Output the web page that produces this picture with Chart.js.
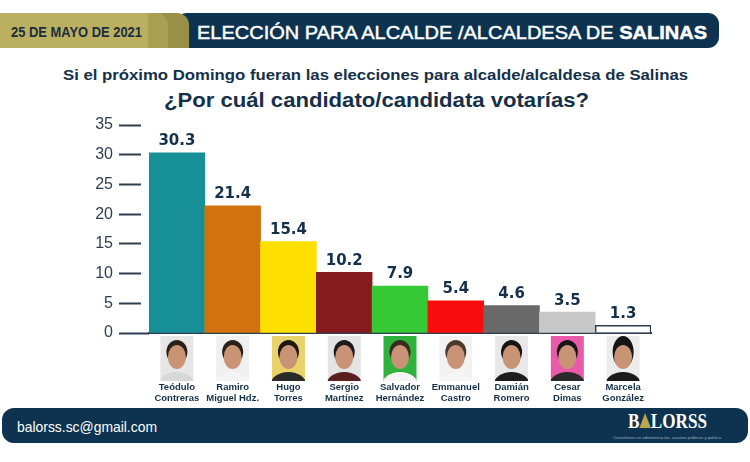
<!DOCTYPE html>
<html><head><meta charset="utf-8">
<script src="https://cdn.jsdelivr.net/npm/chart.js@4.4.0/dist/chart.umd.min.js"></script>
<style>
html,body{margin:0;padding:0;background:#fff;width:750px;height:462px;overflow:hidden;}
.abs{position:absolute;}
.fit{position:absolute;white-space:nowrap;line-height:1;font-family:"Liberation Sans",Arial,sans-serif;}
#c{position:absolute;left:0;top:0;z-index:5;}
</style></head><body>
<!-- header -->
<div class="abs" style="left:176px;top:13px;width:543px;height:35px;background:#0d3350;border-radius:11px;"></div>
<div class="abs" style="left:0;top:13px;width:189px;height:35px;background:#9a8f46;border-radius:0 12px 0 0;"></div>
<div class="abs" style="left:0;top:13px;width:168px;height:35px;background:#aa9f53;border-radius:0 12px 0 0;"></div>
<div class="abs" style="left:0;top:13px;width:148px;height:35px;background:#bab05f;"></div>
<span class="fit" data-l="11" data-w="131" data-cy="32.3" style="font-weight:bold;font-size:14px;color:#1a2e3e;">25 DE MAYO DE 2021</span>
<span class="fit" data-l="197" data-w="510" data-cy="32.6" style="font-size:19px;color:#fff;-webkit-text-stroke:0.45px #fff;">ELECCIÓN PARA ALCALDE /ALCALDESA DE <b>SALINAS</b></span>
<!-- subtitles -->
<span class="fit" data-l="63" data-w="625" data-cy="75" style="font-weight:bold;font-size:15.5px;color:#15304a;">Si el próximo Domingo fueran las elecciones para alcalde/alcaldesa de Salinas</span>
<span class="fit" data-l="164" data-w="425" data-cy="99.5" style="font-weight:bold;font-size:20px;color:#15304a;">¿Por cuál candidato/candidata votarías?</span>
<!-- footer -->
<div class="abs" style="left:2px;top:408px;width:746px;height:35px;background:#0d3350;border-radius:12px;"></div>
<span class="fit" data-l="17" data-w="140" data-cy="426" style="font-size:15px;color:#fff;">balorss.sc@gmail.com</span>
<span class="fit" data-l="628" data-w="79" data-cy="421.5" style="font-family:'Liberation Serif',serif;font-weight:bold;font-size:21px;color:#fff;">B<span style="display:inline-block;width:0;height:0;border-left:7px solid transparent;border-right:7px solid transparent;border-bottom:15px solid #b9a64f;vertical-align:0;"></span>LORSS</span>
<span class="fit" data-l="613" data-w="108" data-cy="437.5" style="font-size:4px;color:#9fb0c0;">Consultores en administración, asuntos públicos y política</span>

<canvas id="c" width="750" height="462"></canvas>
<script>
// ---- data ----
const firstNames = ['Teódulo','Ramiro','Hugo','Sergio','Salvador','Emmanuel','Damián','Cesar','Marcela'];
const lastNames  = ['Contreras','Miguel Hdz.','Torres','Martínez','Hernández','Castro','Romero','Dimas','González'];
const votes      = [30.3, 21.4, 15.4, 10.2, 7.9, 5.4, 4.6, 3.5, 1.3];
const yTicks     = [0, 5, 10, 15, 20, 25, 30, 35];

// ---- styles ----
const barColors = ['#178f97','#d2720e','#fde000','#861b1e','#36c936','#f80c0c','#696969','#c8c8c8','#ffffff'];
const photoBg   = ['#e6e6e6','#f0f0f0','#e8d36a','#e4e4e4','#2fb23c','#f2f2f2','#e8e8e8','#e95aa9','#ececec'];
const shirt     = ['#d8d8d8','#f4f4f4','#2a2a2a','#5a2020','#f4f4f4','#f6f6f6','#1e1e1e','#2a2a2a','#1a1a1a'];
const hair      = ['#2a2018','#2a2018','#1e1610','#1c1c1c','#3a2a20','#4a3a2c','#151515','#151515','#151515'];
const ink = '#15304a';
const axisInk = '#2c3e50';

// fit HTML texts to measured widths
document.querySelectorAll('.fit').forEach(el => {
  const r = el.getBoundingClientRect();
  el.style.left = el.dataset.l + 'px';
  el.style.top = (+el.dataset.cy - r.height / 2) + 'px';
  el.style.transformOrigin = '0 50%';
  el.style.transform = 'scaleX(' + (+el.dataset.w / r.width) + ')';
});

const labelsPlugin = {
  id: 'valueLabels',
  afterDatasetsDraw(chart) {
    const ctx = chart.ctx;
    const meta = chart.getDatasetMeta(0);
    ctx.save();
    ctx.font = 'bold 15px "DejaVu Sans", sans-serif';
    ctx.fillStyle = ink;
    ctx.textAlign = 'center';
    ctx.textBaseline = 'bottom';
    meta.data.forEach((bar, i) => {
      ctx.fillText(votes[i].toFixed(1), bar.x, bar.y - 4);
    });
    // photo placeholders
    const top = chart.chartArea.bottom + 3, w = 33, h = 45;
    meta.data.forEach((bar, i) => {
      const x0 = bar.x - w / 2;
      ctx.fillStyle = photoBg[i];
      ctx.fillRect(x0, top, w, h);
      ctx.save();
      ctx.beginPath(); ctx.rect(x0, top, w, h); ctx.clip();
      ctx.fillStyle = shirt[i];
      ctx.beginPath();
      ctx.ellipse(bar.x, top + h + 4, 18, 13, 0, 0, Math.PI * 2);
      ctx.fill();
      ctx.fillStyle = hair[i];
      ctx.beginPath();
      ctx.ellipse(bar.x, top + 16, 10.5, i === 8 ? 16 : 12, 0, 0, Math.PI * 2);
      ctx.fill();
      ctx.fillStyle = '#c99475';
      ctx.beginPath();
      ctx.ellipse(bar.x, top + 21, 9, 12, 0, 0, Math.PI * 2);
      ctx.fill();
      ctx.restore();
    });
    ctx.restore();
  }
};

new Chart(document.getElementById('c'), {
  type: 'bar',
  data: {
    labels: firstNames.map((f, i) => [f, lastNames[i]]),
    datasets: [{
      data: votes,
      backgroundColor: barColors,
      borderColor: '#2c3e50',
      borderWidth: votes.map((v, i) => i === votes.length - 1 ? 1.5 : 0),
      borderSkipped: 'bottom',
      barPercentage: 1.0,
      categoryPercentage: 1.0
    }]
  },
  options: {
    responsive: false,
    animation: false,
    layout: { padding: { left: 0, right: 99, top: 125, bottom: 0 } },
    plugins: { legend: { display: false }, tooltip: { enabled: false } },
    scales: {
      x: {
        grid: { display: false, drawTicks: false },
        border: { display: true, color: axisInk, width: 2 },
        ticks: {
          padding: 49,
          color: ink,
          maxRotation: 0,
          autoSkip: false,
          font: { family: '"Liberation Sans",Arial,sans-serif', weight: 'bold', size: 9.5, lineHeight: 1.15 }
        },
        afterFit(s) { s.height = 129; }
      },
      y: {
        min: 0, max: 35,
        afterBuildTicks(s) { s.ticks = yTicks.map(v => ({ value: v })); },
        grid: {
          display: true,
          drawOnChartArea: false,
          drawTicks: true,
          tickLength: 30,
          tickColor: axisInk,
          tickWidth: 2,
          tickBorderDash: (c) => (c.tick && c.tick.value === 0) ? [] : [22, 100]
        },
        border: { display: false },
        ticks: {
          padding: 6,
          color: '#2c3e50',
          font: { family: '"Liberation Sans",Arial,sans-serif', size: 16 }
        },
        afterFit(s) { s.width = 149; }
      }
    }
  },
  plugins: [labelsPlugin]
});
</script>
</body></html>
